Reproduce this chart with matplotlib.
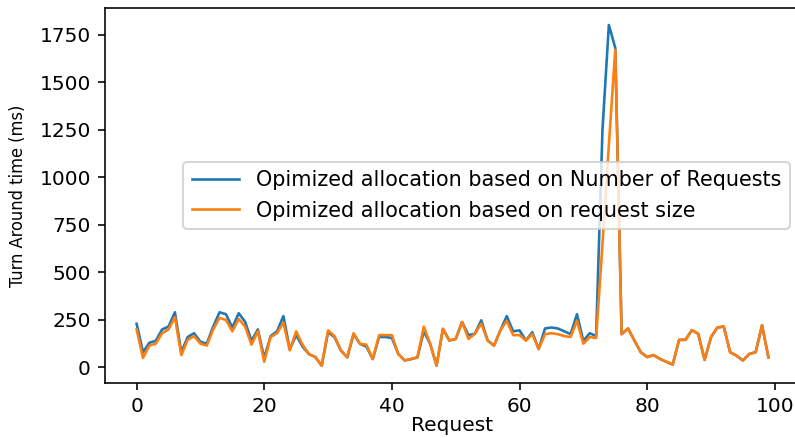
import matplotlib
matplotlib.use("Agg")
import matplotlib.pyplot as plt

# Turn around time per request for the two allocation strategies
by_count = [230, 80, 130, 140, 200, 215, 290, 80, 160, 180,
            135, 125, 215, 290, 280, 210, 285, 240, 140, 200,
            50, 165, 190, 270, 95, 170, 110, 70, 55, 10,
            185, 160, 90, 53, 175, 124, 110, 44, 160, 160,
            155, 71, 37, 44, 53, 190, 124, 10, 203, 142,
            150, 239, 170, 177, 248, 142, 115, 195, 270, 190,
            195, 142, 185, 97, 205, 210, 205, 190, 175, 280,
            140, 180, 165, 1250, 1800, 1680, 175, 205, 142, 80,
            55, 65, 45, 30, 15, 145, 145, 196, 177, 40,
            159, 210, 215, 80, 62, 37, 71, 80, 222, 53]

by_size = [200, 50, 115, 125, 180, 200, 265, 65, 145, 165,
           125, 115, 200, 260, 250, 190, 255, 215, 120, 190,
           30, 160, 180, 235, 90, 190, 120, 70, 55, 8,
           195, 165, 90, 53, 180, 124, 120, 44, 170, 170,
           170, 71, 37, 44, 53, 215, 124, 10, 203, 142,
           150, 239, 150, 177, 230, 142, 115, 195, 245, 170,
           170, 142, 175, 97, 175, 180, 175, 165, 160, 245,
           125, 160, 155, 650, 1170, 1670, 175, 205, 142, 80,
           55, 65, 45, 30, 15, 145, 145, 196, 177, 40,
           159, 210, 215, 80, 62, 37, 71, 80, 222, 53]

requests = list(range(len(by_count)))

fig = plt.figure(figsize=(795 / 145, 438 / 145), dpi=145)
ax = fig.add_axes([0.1321, 0.1256, 0.8742, 0.8562])

ax.plot(requests, by_count, lw=1.3, label="Opimized allocation based on Number of Requests")
ax.plot(requests, by_size, lw=1.3, label="Opimized allocation based on request size")

ax.set_xlabel("Request", labelpad=0)
# narrow font for the y label
ax.set_ylabel("Turn Around time (ms)", fontsize=9, fontstretch="condensed",
              family=["Liberation Sans Narrow", "DejaVu Sans"], labelpad=6)
ax.legend(loc="center right", fontsize=10.3, handlelength=2.3)

fig.savefig("out.png", dpi=145)
